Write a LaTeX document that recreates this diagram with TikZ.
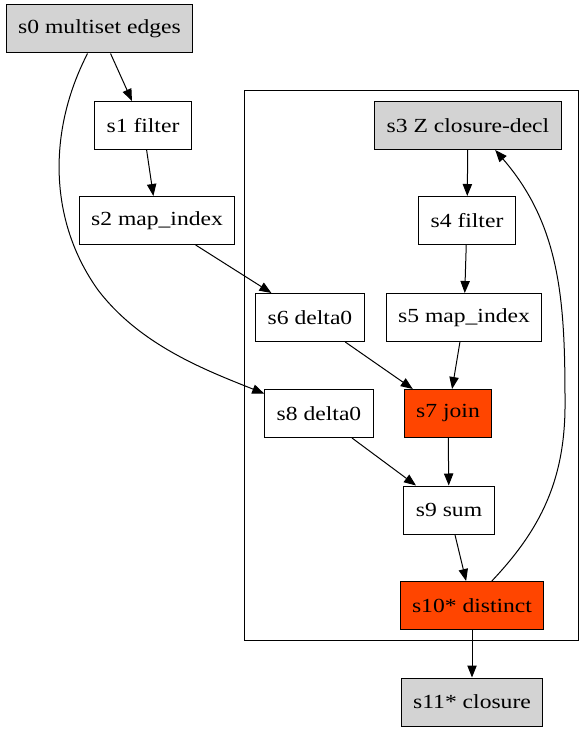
\documentclass[tikz,border=0pt]{standalone}
\usepackage{fontspec}
\setmainfont{Liberation Serif}[FakeStretch=1.18]
\usetikzlibrary{arrows.meta}
\usepackage{xcolor}
\definecolor{srcgray}{HTML}{D3D3D3}
\definecolor{hotred}{HTML}{FF4500}

\begin{document}
\begin{tikzpicture}[
  x=0.75pt, y=-0.75pt,
  op/.style={rectangle, draw, line width=0.75pt, minimum height=36pt,
    inner xsep=9pt, fill=white, font=\fontsize{15pt}{18pt}\selectfont},
  src/.style={op, fill=srcgray},
  hot/.style={op, fill=hotred},
  every edge/.style={draw, line width=0.75pt, -{Triangle[length=9pt,width=7pt]}},
]
  \useasboundingbox (0,0) rectangle (582,731);
  \draw[line width=0.75pt] (244,91) rectangle (578,640);

  \node[src] (s0)  at (99.5,29)  {s0 multiset edges};
  \node[op]  (s1)  at (143,125.5) {s1 filter};
  \node[op]  (s2)  at (157,220.5) {s2 map\_index};
  \node[src] (s3)  at (468,125.5) {s3 Z closure-decl};
  \node[op]  (s4)  at (467,220.5) {s4 filter};
  \node[op]  (s5)  at (464,317.5) {s5 map\_index};
  \node[op]  (s6)  at (310,317.5) {s6 delta0};
  \node[hot] (s7)  at (448,413.5) {s7 join};
  \node[op]  (s8)  at (319,413.5) {s8 delta0};
  \node[op]  (s9)  at (449,510)   {s9 sum};
  \node[hot] (s10) at (472,605.5) {s10* distinct};
  \node[src] (s11) at (472,702)   {s11* closure};

  \path (s0) edge (s1)
        (s1) edge (s2)
        (s2) edge (s6)
        (s3) edge (s4)
        (s4) edge (s5)
        (s5) edge (s7)
        (s6) edge (s7)
        (s7) edge (s9)
        (s8) edge (s9)
        (s9) edge (s10)
        (s10) edge (s11);
  % long bends
  \draw[line width=0.75pt, -{Triangle[length=9pt,width=7pt]}]
    (s0.244) .. controls (48,130) and (48,220) .. (98,290)
    .. controls (140,345) and (205,370) .. (s8.160);
  \draw[line width=0.75pt, -{Triangle[length=9pt,width=7pt]}]
    (s10.51) .. controls (540,530) and (566,480) .. (565,400)
    .. controls (565,300) and (560,225) .. (s3.318);
\end{tikzpicture}
\end{document}
